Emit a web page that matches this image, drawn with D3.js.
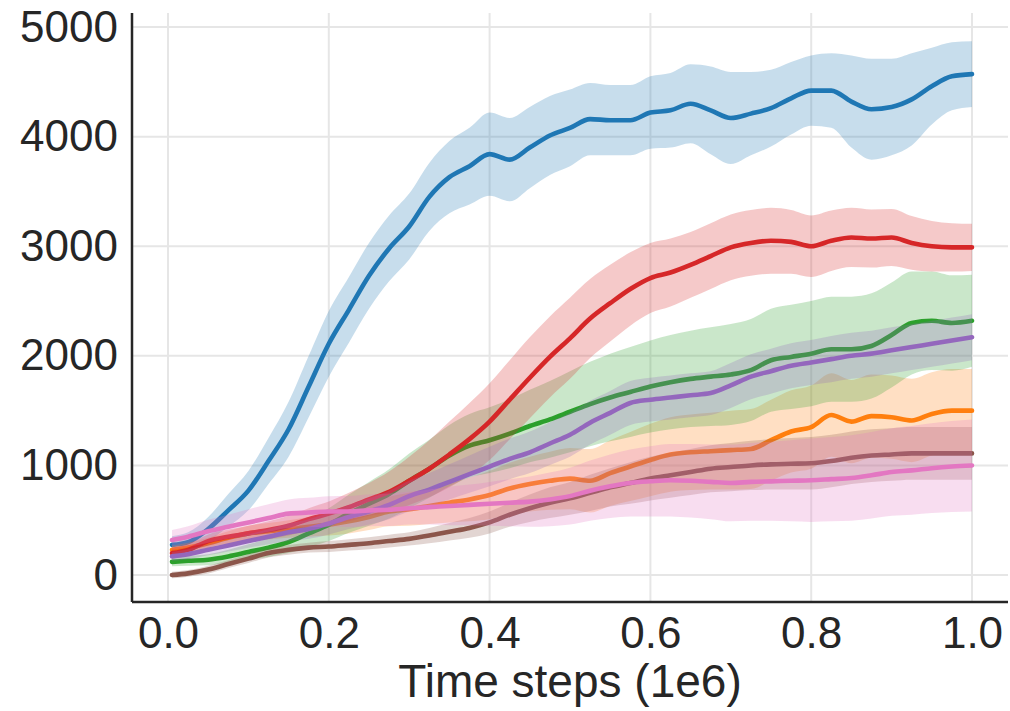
<!DOCTYPE html>
<html>
<head>
<meta charset="utf-8">
<script src="https://cdn.jsdelivr.net/npm/d3@7"></script>
<style>
  html, body { margin: 0; padding: 0; background: #fff; }
  svg { display: block; }
</style>
</head>
<body>
<svg id="chart" width="1010" height="711"></svg>
<script>
// ---------------- DATA ----------------
const steps = [0.005,0.025,0.05,0.075,0.1,0.125,0.15,0.175,0.2,0.225,0.25,0.275,0.3,0.325,0.35,0.375,0.4,0.425,0.45,0.475,0.5,0.525,0.55,0.575,0.6,0.625,0.65,0.675,0.7,0.725,0.75,0.775,0.8,0.825,0.85,0.875,0.9,0.925,0.95,0.975,1.0];

const blueMean   = [275,300,420,590,770,1040,1330,1720,2110,2420,2730,2980,3180,3450,3630,3730,3840,3790,3900,4010,4080,4160,4150,4150,4220,4240,4300,4240,4170,4210,4260,4350,4420,4420,4320,4250,4270,4340,4460,4550,4570];
const blueSpread = [80,90,110,150,180,210,250,280,300,300,300,300,300,310,330,350,380,380,370,360,350,330,320,320,330,340,360,400,420,380,350,330,320,340,420,460,440,420,350,310,300];

const orangeMean   = [230,250,290,340,380,400,420,440,460,490,530,580,600,630,660,690,730,790,830,860,880,860,930,990,1050,1100,1120,1130,1140,1150,1230,1310,1350,1460,1400,1450,1440,1410,1470,1500,1500];
const orangeSpread = [40,45,50,60,70,75,80,90,100,110,120,135,150,165,180,200,220,235,250,265,280,290,300,315,330,340,345,350,360,365,370,375,380,380,380,380,380,380,380,380,380];

const greenMean   = [120,130,140,170,210,250,300,380,460,560,650,740,860,970,1090,1180,1230,1290,1360,1420,1490,1560,1620,1670,1720,1760,1790,1810,1830,1870,1960,1990,2020,2060,2060,2090,2190,2300,2320,2300,2320];
const greenSpread = [40,45,50,60,70,85,100,125,150,175,200,225,250,265,280,290,300,315,330,350,370,385,400,410,420,430,440,450,460,465,470,475,480,480,480,480,480,470,450,435,420];

const redMean   = [200,230,310,350,380,410,450,510,560,620,690,760,860,970,1100,1240,1400,1600,1800,1990,2160,2340,2480,2610,2710,2760,2830,2910,2990,3030,3050,3040,3000,3050,3080,3070,3080,3030,3000,2990,2990];
const redSpread = [50,55,60,65,70,80,90,100,110,130,150,185,220,260,300,330,350,360,370,370,370,360,350,335,320,310,300,300,300,300,300,290,280,275,270,265,260,245,230,220,215];

const purpleMean   = [170,190,230,270,310,350,390,420,470,530,580,640,720,780,850,920,990,1060,1120,1200,1280,1390,1480,1570,1600,1620,1640,1660,1730,1810,1860,1910,1940,1970,2000,2020,2050,2080,2110,2140,2170];
const purpleSpread = [40,45,50,55,60,70,80,90,100,110,120,130,140,150,160,170,180,185,190,195,200,200,200,200,200,200,200,200,205,205,205,205,205,210,210,210,210,210,210,210,210];

const brownMean   = [0,15,50,100,150,200,230,250,260,275,290,310,330,360,395,430,480,550,610,660,700,750,800,840,880,910,940,970,985,1000,1010,1015,1020,1040,1070,1090,1100,1110,1110,1110,1110];
const brownSpread = [30,30,35,35,40,40,45,45,50,52,55,58,60,70,80,90,100,110,125,140,150,165,175,190,200,205,210,215,220,225,230,235,240,240,240,240,240,240,240,240,240];

const pinkMean   = [320,350,400,440,480,520,560,570,580,580,590,595,610,620,630,640,650,660,670,690,720,770,810,840,855,865,860,850,840,850,855,860,865,875,885,910,940,955,975,990,1000];
const pinkSpread = [90,95,105,110,120,125,130,135,140,142,145,148,150,160,175,185,200,215,230,245,260,275,290,305,320,330,335,340,350,355,360,370,380,385,390,395,400,405,410,415,420];

const seriesNames  = ["blue","orange","green","red","purple","brown","pink"];
const seriesColors = ["#1f77b4","#ff7f0e","#2ca02c","#d62728","#9467bd","#8c564b","#e377c2"];
const seriesMeans  = [blueMean, orangeMean, greenMean, redMean, purpleMean, brownMean, pinkMean];
const seriesSpreads= [blueSpread, orangeSpread, greenSpread, redSpread, purpleSpread, brownSpread, pinkSpread];

const xTicks = [0, 0.2, 0.4, 0.6, 0.8, 1.0];
const yTicks = [0, 1000, 2000, 3000, 4000, 5000];
const xLabel = "Time steps (1e6)";

// ---------------- LAYOUT ----------------
const pLeft = 132, pRight = 1008, pTop = 13, pBottom = 602;
const svg = d3.select("#chart");
const x = d3.scaleLinear().domain([-0.04478, 1.04478]).range([pLeft, pRight]);
const y = d3.scaleLinear().domain([-246, 5128]).range([pBottom, pTop]);

const textColor = "#262626";
const fontFam = "'Liberation Sans', Arial, Helvetica, sans-serif";

// grid
svg.append("g").selectAll("line").data(xTicks).join("line")
  .attr("x1", d => x(d)).attr("x2", d => x(d))
  .attr("y1", pTop).attr("y2", pBottom)
  .attr("stroke", "#e6e6e6").attr("stroke-width", 2);
svg.append("g").selectAll("line").data(yTicks).join("line")
  .attr("x1", pLeft).attr("x2", pRight)
  .attr("y1", d => y(d)).attr("y2", d => y(d))
  .attr("stroke", "#e6e6e6").attr("stroke-width", 2);

// bands + lines
const rows = seriesNames.map((n, i) => steps.map((s, j) => ({
  x: s, m: seriesMeans[i][j], s: seriesSpreads[i][j]
})));

const area = d3.area().x(d => x(d.x)).y0(d => y(d.m - d.s)).y1(d => y(d.m + d.s)).curve(d3.curveMonotoneX);
const line = d3.line().x(d => x(d.x)).y(d => y(d.m)).curve(d3.curveMonotoneX);

const plot = svg.append("g");
rows.forEach((r, i) => {
  plot.append("path").datum(r).attr("d", area)
    .attr("fill", seriesColors[i]).attr("fill-opacity", 0.25).attr("stroke", "none");
  plot.append("path").datum(r).attr("d", line)
    .attr("fill", "none").attr("stroke", seriesColors[i])
    .attr("stroke-width", 4.6).attr("stroke-linejoin", "round").attr("stroke-linecap", "round");
});

// axes
const xAxis = svg.append("g").attr("transform", `translate(0,${pBottom})`)
  .call(d3.axisBottom(x).tickValues(xTicks).tickFormat(d3.format(".1f")).tickSize(0).tickPadding(15));
const yAxis = svg.append("g").attr("transform", `translate(${pLeft},0)`)
  .call(d3.axisLeft(y).tickValues(yTicks).tickFormat(d3.format("d")).tickSize(0).tickPadding(14));

[xAxis, yAxis].forEach(g => {
  g.select(".domain").attr("stroke", textColor).attr("stroke-width", 2.5);
  g.selectAll("text").attr("fill", textColor)
    .style("font-family", fontFam).style("font-size", "44px");
});
xAxis.select(".domain").attr("d", `M${pLeft},0H${pRight}`);
yAxis.select(".domain").attr("d", `M0,${pTop}V${pBottom}`);

svg.append("text")
  .attr("x", (pLeft + pRight) / 2).attr("y", 697)
  .attr("text-anchor", "middle")
  .attr("fill", textColor)
  .style("font-family", fontFam).style("font-size", "46px")
  .text(xLabel);
</script>
</body>
</html>
